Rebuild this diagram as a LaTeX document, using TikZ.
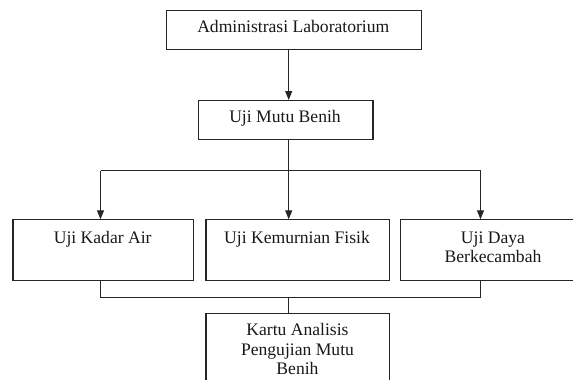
\documentclass[tikz,border=0pt]{standalone}
\usepackage{fontspec}
\setmainfont{Liberation Serif}
\usetikzlibrary{arrows.meta}
\newcommand{\twolines}[2]{\vtop{\baselineskip=19.6pt\halign{\hfil##\hfil\cr #1\cr #2\cr}}}
\newcommand{\threelines}[3]{\vtop{\baselineskip=19.6pt\halign{\hfil##\hfil\cr #1\cr #2\cr #3\cr}}}
\begin{document}
\begin{tikzpicture}[x=1pt,y=-1pt,
  box/.style={draw=black!85, line width=1.1pt, rectangle, inner sep=0pt, anchor=north west},
  txt/.style={inner sep=0pt, anchor=base, font=\fontsize{17.6}{19.6}\selectfont, text=black!90},
  conn/.style={draw=black!85, line width=1.1pt},
  arr/.style={conn, -{Triangle[length=9pt,width=7pt]}}]
\useasboundingbox (0,0) rectangle (573,380);
\clip (0,0) rectangle (573,380);
\fill[white] (0,0) rectangle (573,380);
% boxes
\node[box, minimum width=255.5pt, minimum height=39.3pt] (admin) at (165.5,10) {};
\node[box, minimum width=174.7pt, minimum height=39pt] (mutu) at (197.7,100) {};
\node[box, minimum width=180.6pt, minimum height=60.7pt] (kadar) at (12.4,219.3) {};
\node[box, minimum width=183.1pt, minimum height=60.7pt] (murni) at (205.4,219.3) {};
\node[box, minimum width=186pt, minimum height=60.7pt] (daya) at (400,219.3) {};
\node[box, minimum width=183.1pt, minimum height=80pt] (kartu) at (205.4,313.3) {};
% texts
\node[txt] (tadmin) at (293.3,32.6) {Administrasi Laboratorium};
\node[txt] (tmutu) at (285,122.7) {Uji Mutu Benih};
\node[txt] (tkadar) at (102.7,243.3) {Uji Kadar Air};
\node[txt] (tmurni) at (297,243.3) {Uji Kemurnian Fisik};
\node[txt] (tdaya) at (493,243.3) {\twolines{Uji Daya}{Berkecambah}};
\node[txt] (tkartu) at (297.5,335.5) {\threelines{Kartu Analisis}{Pengujian Mutu}{Benih}};
% junction coordinates
\coordinate (top) at (288.7,0);
\coordinate (hub) at (288.7,170.7);
\coordinate (jL) at (100.5,170.7);
\coordinate (jR) at (480.5,170.7);
\coordinate (bhub) at (288.7,297.3);
\coordinate (bL) at (100.5,297.3);
\coordinate (bR) at (480.5,297.3);
% connectors
\draw[arr] (admin.south -| top) -- (mutu.north -| top);
\draw[conn] (mutu.south -| hub) -- (hub);
\draw[conn] (jL) -- (jR);
\draw[arr] (jL) -- (kadar.north -| jL);
\draw[arr] (hub) -- (murni.north -| hub);
\draw[arr] (jR) -- (daya.north -| jR);
\draw[conn] (kadar.south -| bL) -- (bL) -- (bR) -- (daya.south -| bR);
\draw[conn] (bhub) -- (kartu.north -| bhub);
\end{tikzpicture}
\end{document}
